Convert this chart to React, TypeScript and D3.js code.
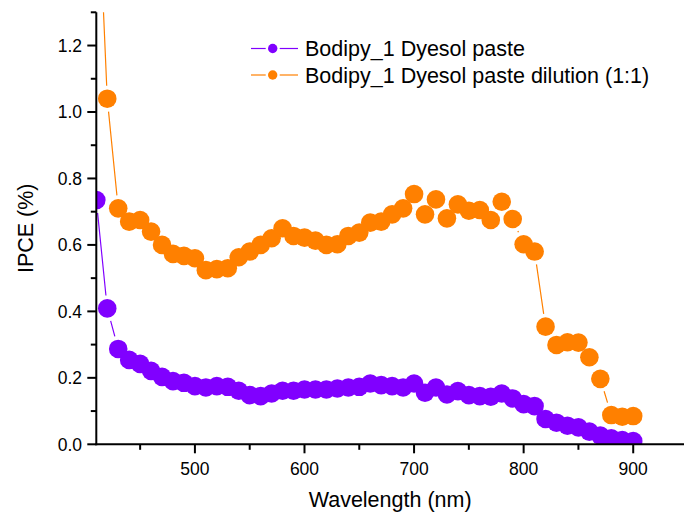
import React from 'react';
import * as d3 from 'd3';

const wavelengths = [410, 420, 430, 440, 450, 460, 470, 480, 490, 500, 510, 520, 530, 540, 550, 560, 570, 580, 590, 600, 610, 620, 630, 640, 650, 660, 670, 680, 690, 700, 710, 720, 730, 740, 750, 760, 770, 780, 790, 800, 810, 820, 830, 840, 850, 860, 870, 880, 890, 900];

const pasteIPCE = [0.735, 0.409, 0.287, 0.254, 0.242, 0.221, 0.203, 0.19, 0.185, 0.175, 0.171, 0.175, 0.173, 0.161, 0.148, 0.145, 0.153, 0.161, 0.161, 0.165, 0.165, 0.165, 0.168, 0.171, 0.173, 0.183, 0.178, 0.175, 0.171, 0.183, 0.155, 0.171, 0.15, 0.16, 0.148, 0.145, 0.143, 0.153, 0.138, 0.121, 0.115, 0.076, 0.065, 0.056, 0.051, 0.038, 0.026, 0.018, 0.013, 0.01];

const dilutionIPCE = [1.8, 1.04, 0.71, 0.67, 0.675, 0.64, 0.6, 0.573, 0.567, 0.56, 0.524, 0.527, 0.53, 0.563, 0.58, 0.6, 0.62, 0.65, 0.627, 0.622, 0.613, 0.6, 0.602, 0.627, 0.637, 0.667, 0.67, 0.692, 0.71, 0.753, 0.692, 0.737, 0.68, 0.722, 0.703, 0.705, 0.675, 0.73, 0.678, 0.602, 0.58, 0.354, 0.299, 0.307, 0.306, 0.262, 0.197, 0.088, 0.083, 0.085];

const seriesNames = ['Bodipy_1 Dyesol paste', 'Bodipy_1 Dyesol paste dilution (1:1)'];
const seriesColors = ['#8000ff', '#ff8000'];

const xMajorTicks = [500, 600, 700, 800, 900];
const xMinorTicks = [450, 550, 650, 750, 850, 950];
const yMajorTicks = [0, 0.2, 0.4, 0.6, 0.8, 1.0, 1.2];
const yMinorTicks = [0.1, 0.3, 0.5, 0.7, 0.9, 1.1, 1.3];

const W = 684;
const H = 515;
const left = 96.3;
const right = 688;
const top = 12.3;
const bottom = 444.3;
const font = '"Liberation Sans", Arial, sans-serif';

export default function App() {
  const x = d3.scaleLinear().domain([410, 950]).range([left, right]);
  const y = d3.scaleLinear().domain([0, 1.3]).range([bottom, top]);
  const fmt = d3.format('.1f');
  const r = 9.3;
  const gap = 13;

  const series = [pasteIPCE, dilutionIPCE].map((vals, i) => ({
    name: seriesNames[i],
    color: seriesColors[i],
    pts: wavelengths.map((w, j) => [x(w), y(vals[j])] as [number, number]),
  }));

  const segments = (pts: [number, number][]) => {
    const out: string[] = [];
    for (let i = 0; i < pts.length - 1; i++) {
      const [x1, y1] = pts[i];
      const [x2, y2] = pts[i + 1];
      const dx = x2 - x1;
      const dy = y2 - y1;
      const len = Math.hypot(dx, dy);
      if (len <= 2 * gap) continue;
      const ux = dx / len;
      const uy = dy / len;
      out.push(`M${x1 + ux * gap},${y1 + uy * gap}L${x2 - ux * gap},${y2 - uy * gap}`);
    }
    return out.join('');
  };

  const legendY = [48.5, 75];
  const legX0 = 251;
  const legX1 = 298;
  const legMx = 272.7;

  return (
    <svg width={W} height={H} style={{ position: 'absolute', left: 0, top: 0, background: '#fff' }} fontFamily={font}>
      <defs>
        <clipPath id="plotclip">
          <rect x={left} y={top} width={right - left} height={bottom - top} />
        </clipPath>
      </defs>
      <rect x={0} y={0} width={W} height={H} fill="#fff" />
      <g clipPath="url(#plotclip)">
        {series.map((s) => (
          <g key={s.name}>
            <path d={segments(s.pts)} stroke={s.color} strokeWidth={1.2} fill="none" />
            {s.pts.map((p, j) => (
              <circle key={j} cx={p[0]} cy={p[1]} r={r} fill={s.color} />
            ))}
          </g>
        ))}
      </g>
      {/* axes */}
      <line x1={left} x2={left} y1={top} y2={bottom + 1} stroke="#000" strokeWidth={2} />
      <line x1={left - 1} x2={W} y1={bottom} y2={bottom} stroke="#000" strokeWidth={2} />
      {xMajorTicks.map((t) => (
        <g key={'xm' + t}>
          <line x1={x(t)} x2={x(t)} y1={bottom} y2={bottom + 9} stroke="#000" strokeWidth={2} />
          <text x={x(t)} y={474.5} textAnchor="middle" fontSize={17.5} fill="#000">{t}</text>
        </g>
      ))}
      {xMinorTicks.map((t) => (
        <line key={'xn' + t} x1={x(t)} x2={x(t)} y1={bottom} y2={bottom + 5.5} stroke="#000" strokeWidth={2} />
      ))}
      {yMajorTicks.map((t) => (
        <g key={'ym' + t}>
          <line x1={left - 9} x2={left} y1={y(t)} y2={y(t)} stroke="#000" strokeWidth={2} />
          <text x={82} y={y(t)} dy="0.36em" textAnchor="end" fontSize={17.5} fill="#000">{fmt(t)}</text>
        </g>
      ))}
      {yMinorTicks.map((t) => (
        <line key={'yn' + t} x1={left - 5.5} x2={left} y1={y(t)} y2={y(t)} stroke="#000" strokeWidth={2} />
      ))}
      <text x={(left + right) / 2 - 2} y={507} textAnchor="middle" fontSize={21.5} fill="#000">Wavelength (nm)</text>
      <text transform={`translate(33,${(top + bottom) / 2}) rotate(-90)`} textAnchor="middle" fontSize={21.5} fill="#000">IPCE (%)</text>
      {/* legend */}
      {series.map((s, i) => (
        <g key={'leg' + i}>
          <line x1={legX0} x2={legMx - 7} y1={legendY[i]} y2={legendY[i]} stroke={s.color} strokeWidth={1.2} />
          <line x1={legMx + 7} x2={legX1} y1={legendY[i]} y2={legendY[i]} stroke={s.color} strokeWidth={1.2} />
          <circle cx={legMx} cy={legendY[i]} r={4.7} fill={s.color} />
          <text x={305} y={legendY[i]} dy="0.36em" fontSize={21.5} fill="#000">{s.name}</text>
        </g>
      ))}
    </svg>
  );
}
